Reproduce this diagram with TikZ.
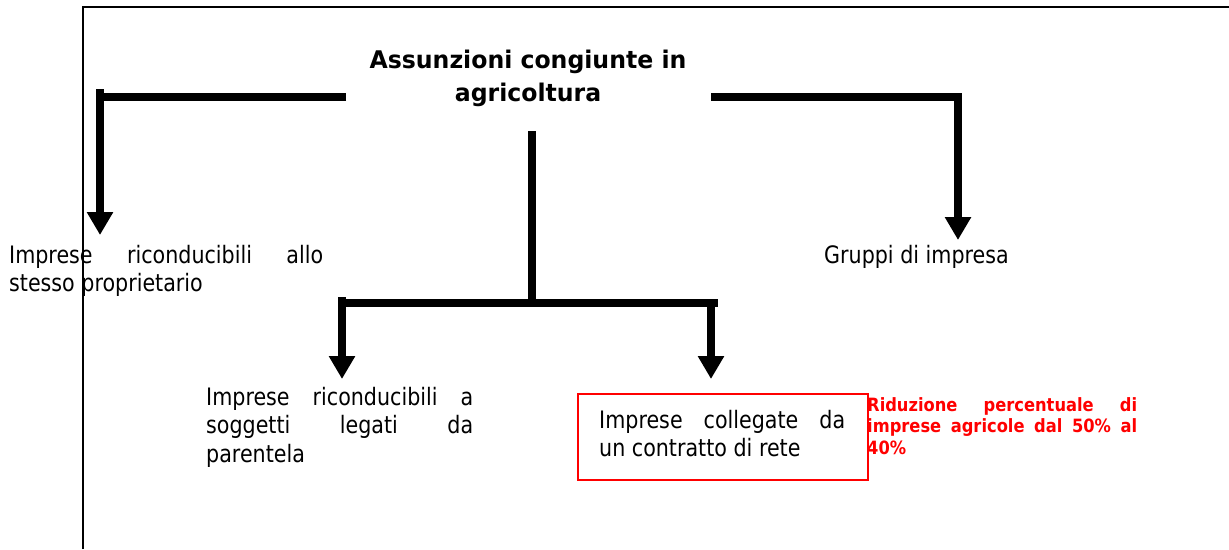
\documentclass[tikz,border=0pt]{standalone}
\usepackage{fontspec}
\setmainfont{DejaVu Sans}[FakeStretch=0.86]
\newfontfamily\titlefont{DejaVu Sans}[BoldFeatures={FakeStretch=0.97}]
\newfontfamily\notefont{DejaVu Sans}[BoldFeatures={FakeStretch=0.89}]
\usetikzlibrary{arrows.meta}
\definecolor{pred}{RGB}{255,0,0}
\begin{document}
\begin{tikzpicture}[x=1pt,y=-1pt,
  framel/.style={line width=2pt,black},
  bar/.style={line width=8pt,black,line join=miter},
  arr/.style={bar,-{Triangle[width=25pt,length=23pt]}},
  txt/.style={anchor=base west,inner sep=0pt,font=\fontsize{24}{28.5}\selectfont},
  ttl/.style={anchor=base,inner sep=0pt,font=\titlefont\fontsize{24.3}{32.7}\selectfont\bfseries,align=center},
  rtxt/.style={anchor=base west,inner sep=0pt,text=pred,font=\notefont\fontsize{18.3}{21.5}\selectfont\bfseries},
  redbox/.style={draw=pred,line width=1.6pt,anchor=north west,inner sep=0pt,minimum width=290pt,minimum height=86pt}]
\fill[white] (0,0) rectangle (1229,549);
\useasboundingbox (0,0) rectangle (1229,549);
% frame
\coordinate (f1) at (83,549);
\coordinate (f2) at (83,7);
\coordinate (f3) at (1229,7);
\draw[framel] (f1) -- (f2) -- (f3);
% title (base anchor = last line)
\node[ttl] (title) at (528,101) {Assunzioni congiunte in\\agricoltura};
% texts
\node[txt] (n1) at (9,263) {\parbox[t]{314pt}{\makebox[314pt][s]{Imprese riconducibili allo}\\stesso proprietario}};
\node[txt] (n3) at (824,263) {Gruppi di impresa};
\node[txt] (n2) at (206,405) {\parbox[t]{267pt}{\makebox[267pt][s]{Imprese riconducibili a}\\\makebox[267pt][s]{soggetti legati da}\\parentela}};
\node[redbox] (box) at (577,393) {};
\node[txt] (n4) at (599,428) {\parbox[t]{246pt}{\makebox[246pt][s]{Imprese collegate da}\\un contratto di rete}};
\node[rtxt] (n5) at (867,411) {\parbox[t]{270pt}{\makebox[270pt][s]{Riduzione percentuale di}\\\makebox[270pt][s]{imprese agricole dal 50\% al}\\40\%}};
% connector points
\coordinate (tl) at (346,97);
\coordinate (tl2) at (96,97);
\coordinate (l0) at (100,89);
\coordinate (a1) at (100,235);
\coordinate (tr) at (711,97);
\coordinate (a3) at (958,240);
\coordinate (c1) at (532,131);
\coordinate (c2) at (532,303);
\coordinate (b1) at (338,303);
\coordinate (b2) at (718,303);
\coordinate (b3) at (342,297);
\coordinate (a2) at (342,379);
\coordinate (b4) at (711,300);
\coordinate (a4) at (711,379);
% connectors
\draw[bar] (tl) -- (tl2);
\draw[arr] (l0) -- (a1);
\draw[arr] (tr) -| (a3);
\draw[bar] (c1) -- (c2);
\draw[bar] (b1) -- (b2);
\draw[arr] (b3) -- (a2);
\draw[arr] (b4) -- (a4);
\end{tikzpicture}
\end{document}
